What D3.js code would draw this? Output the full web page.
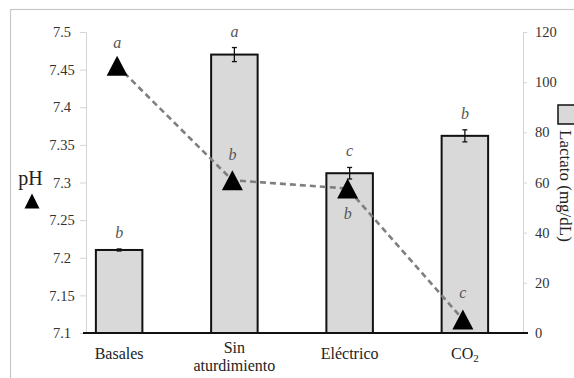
<!DOCTYPE html>
<html><head><meta charset="utf-8">
<script src="https://cdn.jsdelivr.net/npm/d3@7"></script>
<style>body{margin:0;background:#fff}svg{display:block}</style>
</head><body>
<svg id="c" width="574" height="378" font-family="Liberation Serif, serif"></svg>
<script>
const categories = ["Basales", "Sin aturdimiento", "Eléctrico", "CO2"];
const lactato = [33.1, 111.0, 63.7, 78.6];
const lactatoErr = [0.4, 2.8, 2.3, 2.4];
const lactatoLetters = ["b", "a", "c", "b"];
const ph = [7.455, 7.303, 7.292, 7.118];
const phLetters = ["a", "b", "b", "c"];
const phTicks = [7.1, 7.15, 7.2, 7.25, 7.3, 7.35, 7.4, 7.45, 7.5];
const lacTicks = [0, 20, 40, 60, 80, 100, 120];

const SERIF = "'Liberation Serif', 'Times New Roman', serif";
const svg = d3.select("#c");
const x = d3.scaleBand().domain(categories).range([62, 523]).padding(0);
const cx = c => x(c) + x.bandwidth() / 2 - 0.5;
const yL = d3.scaleLinear().domain([7.1, 7.5]).range([333, 32]);
const yR = d3.scaleLinear().domain([0, 120]).range([333, 32]);
const barW = 46.5;

// frame
svg.append("rect").attr("x", 10.5).attr("y", 9.5).attr("width", 700).attr("height", 500)
  .attr("fill", "none").attr("stroke", "#c8c8c8").attr("stroke-width", 1.2);

// left axis
const gl = svg.append("g").attr("transform", "translate(86,0)")
  .call(d3.axisLeft(yL).tickValues(phTicks).tickSize(6).tickPadding(4).tickFormat(d => String(+d.toFixed(2))));
gl.attr("font-family", SERIF);
gl.selectAll("path,line").attr("stroke", "#d4d4d4");
gl.selectAll("text").attr("font-size", 14.5).attr("fill", "#333")
  .attr("text-anchor", "middle").attr("x", -24);

// right axis
const gr = svg.append("g").attr("transform", "translate(523,0)")
  .call(d3.axisRight(yR).tickValues(lacTicks).tickSize(4).tickPadding(8));
gr.attr("font-family", SERIF);
gr.selectAll("path,line").attr("stroke", "#d4d4d4");
gr.selectAll("text").attr("font-size", 14.5).attr("fill", "#333");

// bars
svg.append("g").selectAll("rect").data(categories).join("rect")
  .attr("x", (c) => cx(c) - barW / 2)
  .attr("y", (c, i) => yR(lactato[i]))
  .attr("width", barW)
  .attr("height", (c, i) => yR(0) - yR(lactato[i]))
  .attr("fill", "#d9d9d9").attr("stroke", "#111").attr("stroke-width", 2);

// error bars
const eg = svg.append("g").attr("stroke", "#111").attr("stroke-width", 1.3);
categories.forEach((c, i) => {
  const t = yR(lactato[i] + lactatoErr[i]), b = yR(lactato[i] - lactatoErr[i]);
  eg.append("line").attr("x1", cx(c)).attr("x2", cx(c)).attr("y1", t).attr("y2", b);
  eg.append("line").attr("x1", cx(c) - 2.5).attr("x2", cx(c) + 2.5).attr("y1", t).attr("y2", t);
  eg.append("line").attr("x1", cx(c) - 2.5).attr("x2", cx(c) + 2.5).attr("y1", b).attr("y2", b);
});

// bottom axis
svg.append("line").attr("x1", 83).attr("x2", 528).attr("y1", yR(0)).attr("y2", yR(0))
  .attr("stroke", "#111").attr("stroke-width", 2.2);

// pH dashed line
const line = d3.line().x((d, i) => cx(categories[i]) - 2).y(d => yL(d));
svg.append("path").attr("d", line(ph)).attr("fill", "none")
  .attr("stroke", "#7f7f7f").attr("stroke-width", 2.6).attr("stroke-dasharray", "6,4");

// triangles (bbox-centred)
const tri = (w, h) => `M0,${-h/2}L${w/2},${h/2}L${-w/2},${h/2}Z`;
svg.append("g").selectAll("path").data(ph).join("path")
  .attr("transform", (d, i) => `translate(${cx(categories[i]) - 2},${yL(d)})`)
  .attr("d", tri(21, 20)).attr("fill", "#000");

// bar letters
svg.append("g").selectAll("text").data(lactatoLetters).join("text")
  .attr("x", (d, i) => cx(categories[i]))
  .attr("y", (d, i) => yR(lactato[i] + lactatoErr[i]) - 11)
  .attr("text-anchor", "middle").attr("font-size", 16).attr("font-style", "italic")
  .attr("fill", "#555").text(d => d);

// pH letters
const phOff = [-18, -20, 30, -21];
svg.append("g").selectAll("text").data(phLetters).join("text")
  .attr("x", (d, i) => cx(categories[i]) - 2)
  .attr("y", (d, i) => yL(ph[i]) + phOff[i])
  .attr("text-anchor", "middle").attr("font-size", 16).attr("font-style", "italic")
  .attr("fill", "#555").text(d => d);

// category labels
const lab = svg.append("g").attr("font-size", 16).attr("fill", "#222").attr("text-anchor", "middle");
categories.forEach((c, i) => {
  if (c === "Sin aturdimiento") {
    lab.append("text").attr("x", cx(c)).attr("y", 353).text("Sin");
    lab.append("text").attr("x", cx(c)).attr("y", 371).text("aturdimiento");
  } else if (c === "CO2") {
    const t = lab.append("text").attr("x", cx(c)).attr("y", 359);
    t.append("tspan").text("CO");
    t.append("tspan").attr("font-size", 11).attr("dy", 3).text("2");
  } else {
    lab.append("text").attr("x", cx(c)).attr("y", 359).text(c);
  }
});

// left title
svg.append("text").attr("x", 30.5).attr("y", 185).attr("text-anchor", "middle")
  .attr("font-size", 20).attr("fill", "#222").text("pH");
svg.append("path").attr("transform", "translate(32,201)").attr("d", tri(15, 15)).attr("fill", "#000");

// right title with legend square
svg.append("rect").attr("x", 558).attr("y", 105).attr("width", 20).attr("height", 19)
  .attr("fill", "#d9d9d9").attr("stroke", "#111").attr("stroke-width", 1.5);
svg.append("text").attr("transform", "translate(560,130) rotate(90)")
  .attr("font-size", 17).attr("fill", "#222").text("Lactato (mg/dL)");

svg.selectAll("text").style("font-family", SERIF);
</script>
</body></html>
